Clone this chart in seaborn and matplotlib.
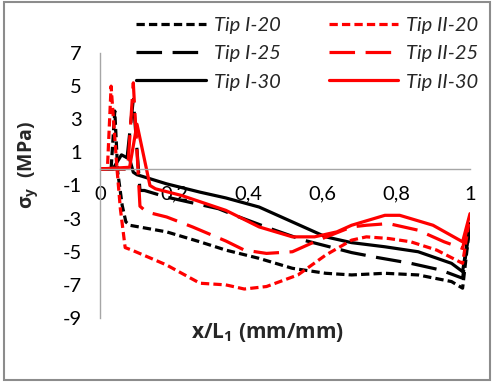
import matplotlib
matplotlib.use("Agg")
import matplotlib.pyplot as plt
from matplotlib.patches import Rectangle
from matplotlib.lines import Line2D
import seaborn as sns
import pandas as pd

# ---------------- data ----------------
x_I20 = [0, 0.03, 0.04, 0.048, 0.06, 0.07, 0.08, 0.18, 0.27, 0.34, 0.43, 0.52, 0.61, 0.68, 0.77, 0.86, 0.95, 0.98, 1.0]
y_I20 = [0, 0, 3.5, -0.2, -2.2, -3.2, -3.4, -3.8, -4.4, -4.9, -5.4, -6.0, -6.3, -6.4, -6.3, -6.4, -6.8, -7.2, -3.3]

x_I25 = [0, 0.07, 0.09, 0.108, 0.12, 0.18, 0.26, 0.32, 0.37, 0.46, 0.55, 0.62, 0.68, 0.75, 0.84, 0.92, 0.98, 1.0]
y_I25 = [0, 0, 4.2, -1.3, -1.3, -1.7, -2.1, -2.4, -2.85, -3.6, -4.3, -4.7, -5.05, -5.35, -5.7, -6.1, -6.6, -3.3]

x_I30 = [0, 0.035, 0.058, 0.08, 0.09, 0.1, 0.18, 0.27, 0.34, 0.43, 0.52, 0.61, 0.68, 0.77, 0.86, 0.95, 0.98, 1.0]
y_I30 = [0, 0, 0.85, 0.6, -0.2, -0.35, -0.9, -1.4, -1.75, -2.3, -3.2, -4.1, -4.45, -4.7, -5.0, -5.7, -6.2, -3.3]

x_II20 = [0, 0.02, 0.03, 0.046, 0.055, 0.068, 0.086, 0.18, 0.27, 0.34, 0.39, 0.45, 0.535, 0.61, 0.68, 0.72, 0.78, 0.84, 0.91, 0.98, 1.0]
y_II20 = [0, 0, 5.0, 0, -2.4, -4.75, -4.9, -5.8, -6.9, -7.0, -7.25, -7.1, -6.4, -5.2, -4.3, -4.1, -4.2, -4.4, -4.9, -5.7, -2.8]

x_II25 = [0, 0.075, 0.09, 0.108, 0.126, 0.18, 0.25, 0.34, 0.39, 0.45, 0.52, 0.59, 0.68, 0.72, 0.78, 0.86, 0.93, 0.98, 1.0]
y_II25 = [0, 0, 5.2, -2.25, -2.6, -2.9, -3.5, -4.35, -4.9, -5.1, -5.0, -4.3, -3.5, -3.4, -3.3, -3.7, -4.4, -4.8, -2.8]

x_II30 = [0, 0.08, 0.1, 0.135, 0.15, 0.22, 0.34, 0.43, 0.52, 0.58, 0.64, 0.68, 0.77, 0.81, 0.90, 0.98, 1.0]
y_II30 = [0, 0.1, 2.7, -1.0, -1.2, -1.6, -2.5, -3.5, -4.1, -4.1, -3.8, -3.4, -2.8, -2.8, -3.4, -4.4, -2.7]

series_names = ["Tip I-20", "Tip I-25", "Tip I-30", "Tip II-20", "Tip II-25", "Tip II-30"]
y_ticks = [-9, -7, -5, -3, -1, 1, 3, 5, 7]
x_ticks = [0, 0.2, 0.4, 0.6, 0.8, 1.0]
x_tick_labels = ["0", "0,2", "0,4", "0,6", "0,8", "1"]
x_label = "x/L$_\\mathbf{1}$ (mm/mm)"
y_label = "σ$_\\mathbf{y}$  (MPa)"

xs = [x_I20, x_I25, x_I30, x_II20, x_II25, x_II30]
ys = [y_I20, y_I25, y_I30, y_II20, y_II25, y_II30]
frames = [pd.DataFrame({"x": a, "y": b, "series": n}) for a, b, n in zip(xs, ys, series_names)]
df = pd.concat(frames, ignore_index=True)

# ---------------- style ----------------
sns.set_theme(style="white")
plt.rcParams["font.family"] = ["Lato", "DejaVu Sans"]
plt.rcParams["axes.unicode_minus"] = False
plt.rcParams["mathtext.fontset"] = "custom"
plt.rcParams["mathtext.bf"] = "Open Sans:bold"
plt.rcParams["mathtext.rm"] = "Open Sans"

palette = {"Tip I-20": "#000000", "Tip I-25": "#000000", "Tip I-30": "#000000",
           "Tip II-20": "#FF0000", "Tip II-25": "#FF0000", "Tip II-30": "#FF0000"}
dashes = {"Tip I-20": (2.6, 1.3), "Tip I-25": (8, 3.3), "Tip I-30": "",
          "Tip II-20": (2.6, 1.3), "Tip II-25": (8, 3.3), "Tip II-30": ""}

W, H = 493, 383
fig = plt.figure(figsize=(W / 100, H / 100), dpi=100)
ax = fig.add_axes([100 / W, 1 - 318 / H, 370 / W, 265 / H])

sns.lineplot(data=df, x="x", y="y", hue="series", style="series",
             palette=palette, dashes=dashes, estimator=None, sort=False,
             linewidth=2.3, legend=False, ax=ax)

ax.set_xlim(0, 1)
ax.set_ylim(-9, 7)
ax.set_yticks(y_ticks)
ax.set_yticklabels([str(v) for v in y_ticks])
ax.set_xticks(x_ticks)
ax.set_xticklabels(x_tick_labels)
ax.set_xlabel("")
ax.set_ylabel("")
for s in ["top", "right"]:
    ax.spines[s].set_visible(False)
ax.spines["bottom"].set_position(("data", 0))
for s in ["left", "bottom"]:
    ax.spines[s].set_color("#A6A6A6")
    ax.spines[s].set_linewidth(1.0)
ax.tick_params(axis="both", length=0, labelsize=14.5, colors="#000000")
ax.tick_params(axis="y", pad=13)
ax.tick_params(axis="x", pad=12)
ax.patch.set_alpha(0)

# legend: column-wise fill gives I-* in col 1, II-* in col 2
handles = []
for n in series_names:
    d = dashes[n]
    h = Line2D([], [], color=palette[n], linewidth=2.3)
    if d:
        h.set_dashes(d)
    handles.append(h)
fig.legend(handles, series_names, ncol=2, loc="upper left",
           bbox_to_anchor=(126 / W, 1 - 7 / H), frameon=False,
           prop={"family": ["Lato", "DejaVu Sans"], "style": "italic", "size": 14.5},
           handlelength=3.45, handletextpad=0.4, columnspacing=2.4, labelspacing=0.55,
           borderaxespad=0.3, borderpad=0.2)

fig.text(267 / W, 1 - 333 / H, x_label, ha="center", va="center",
         fontsize=15, fontweight="bold", family="Open Sans")
fig.text(28 / W, 1 - 165 / H, y_label, ha="center", va="center", rotation=90,
         fontsize=14, fontweight="bold", family="Open Sans")

fig.patches.append(Rectangle((4 / W, 1 - 380 / H), 486 / W, 378 / H, transform=fig.transFigure,
                             fill=False, edgecolor="#8C8C8C", linewidth=1.5))

fig.savefig("out.png", dpi=100)
